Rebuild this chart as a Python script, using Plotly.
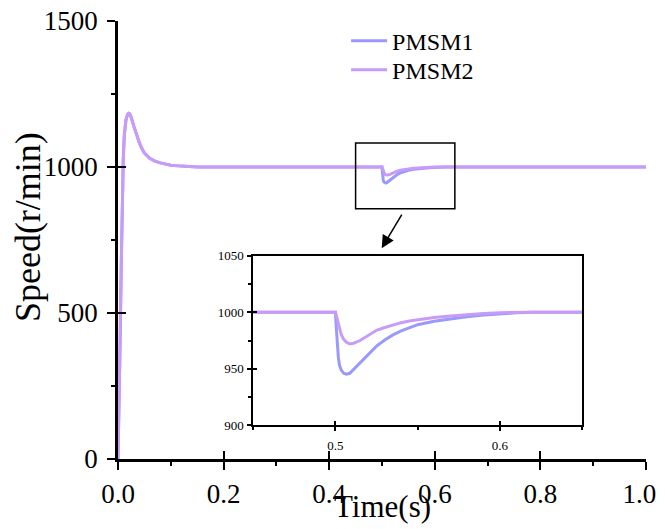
import plotly.graph_objects as go

# ---- data ----
time_s = [0, 0.002, 0.004, 0.006, 0.008, 0.01, 0.012, 0.015, 0.018, 0.02, 0.022, 0.025,
          0.03, 0.035, 0.04, 0.045, 0.05, 0.06, 0.07, 0.08, 0.09, 0.1, 0.12, 0.15, 0.2,
          0.3, 0.4, 0.45, 0.49,
          0.5, 0.5006, 0.5012, 0.5018, 0.5025, 0.5035, 0.505, 0.5067, 0.5087, 0.511,
          0.515, 0.52, 0.525, 0.53, 0.535, 0.54, 0.545, 0.55, 0.56, 0.57, 0.58, 0.59,
          0.6, 0.61, 0.62,
          0.65, 0.7, 0.8, 0.9, 1.0]

pmsm1 = [0, 150, 400, 650, 880, 1030, 1110, 1160, 1180, 1184, 1182, 1170,
         1140, 1110, 1085, 1064, 1048, 1030, 1020, 1014, 1010, 1006, 1003, 1000, 1000,
         1000, 1000, 1000, 1000,
         1000, 985, 970, 960, 953, 949, 946, 945.2, 946, 949.5,
         955.5, 963, 970, 975.5, 980, 983.5, 986.5, 989, 992, 994.3, 996, 997.5,
         998.7, 999.5, 1000,
         1000, 1000, 1000, 1000, 1000]

pmsm2 = [0, 150, 400, 650, 880, 1030, 1110, 1160, 1180, 1184, 1182, 1170,
         1140, 1110, 1085, 1064, 1048, 1030, 1020, 1014, 1010, 1006, 1003, 1000, 1000,
         1000, 1000, 1000, 1000,
         1000, 997, 993, 989, 985, 980.5, 976, 973.5, 972, 972.5,
         975, 979.5, 984, 986.5, 988.8, 990.8, 992.3, 993.5, 995.3, 996.8, 998, 999,
         999.6, 1000, 1000,
         1000, 1000, 1000, 1000, 1000]

series_names = ["PMSM1", "PMSM2"]
x_ticks = [0, 0.2, 0.4, 0.6, 0.8, 1.0]
x_tick_labels = ["0.0", "0.2", "0.4", "0.6", "0.8", "1.0\u00a0\u00a0"]
y_ticks = [0, 500, 1000, 1500]
inset_x_ticks = [0.5, 0.6]
inset_y_ticks = [900, 950, 1000, 1050]
zoom_x = [0.45, 0.638]
zoom_y = [857, 1082]

# ---- style ----
C1 = "#9a9afc"
C2 = "#c99bf8"
FONT = "Liberation Serif"

fig = go.Figure()
legends = ["legend", "legend2"]
for name, vals, col, lg in [(series_names[0], pmsm1, C1, legends[0]),
                            (series_names[1], pmsm2, C2, legends[1])]:
    fig.add_trace(go.Scatter(x=time_s, y=vals, mode="lines", name=name, legend=lg,
                             line=dict(color=col, width=3), xaxis="x", yaxis="y"))
for name, vals, col in [(series_names[0], pmsm1, C1), (series_names[1], pmsm2, C2)]:
    fig.add_trace(go.Scatter(x=time_s, y=vals, mode="lines", name=name, showlegend=False,
                             line=dict(color=col, width=3), xaxis="x2", yaxis="y2"))
# empty traces to instantiate the tick-overlay axes
fig.add_trace(go.Scatter(x=[], y=[], xaxis="x3", yaxis="y3", showlegend=False))
fig.add_trace(go.Scatter(x=[], y=[], xaxis="x4", yaxis="y4", showlegend=False))

blk = "black"
main_x_common = dict(range=[0, 1], tickvals=x_ticks, ticktext=x_tick_labels,
                     tickwidth=2, tickcolor=blk, ticklen=8, automargin=False,
                     minor=dict(dtick=0.1, tick0=0, ticklen=4, tickwidth=2, tickcolor=blk),
                     showgrid=False, zeroline=False, domain=[0, 1])
main_y_common = dict(range=[0, 1500], tickvals=y_ticks, tickwidth=2, tickcolor=blk, ticklen=8,
                     automargin=False,
                     minor=dict(dtick=250, tick0=0, ticklen=4, tickwidth=2, tickcolor=blk),
                     showgrid=False, zeroline=False, domain=[0, 1])

in_xdom = [0.256, 0.879]
in_ydom = [0.077, 0.464]
in_x_common = dict(range=[0.45, 0.65], tickvals=inset_x_ticks, ticktext=["0.5", "0.6"],
                   tickwidth=1.5, tickcolor=blk, ticklen=4, automargin=False,
                   minor=dict(dtick=0.05, tick0=0.45, ticklen=3, tickwidth=1.5, tickcolor=blk),
                   showgrid=False, zeroline=False, domain=in_xdom)
in_y_common = dict(range=[900, 1050], tickvals=inset_y_ticks, tickwidth=1.5, tickcolor=blk,
                   ticklen=4, automargin=False,
                   minor=dict(dtick=25, tick0=900, ticklen=3, tickwidth=1.5, tickcolor=blk),
                   showgrid=False, zeroline=False, domain=in_ydom)

leg_common = dict(xanchor="left", yanchor="middle", font=dict(size=24, family=FONT, color=blk),
                  bgcolor="rgba(0,0,0,0)", itemwidth=36)

# page body adds an 8px offset; figure is sized so the plot area lands where the reference has it
fig.update_layout(
    template="none",
    width=657, height=521,
    margin=dict(l=110, r=19, t=13, b=70, autoexpand=False),
    paper_bgcolor="white", plot_bgcolor="white",
    font=dict(family=FONT, color="black"),
    showlegend=True,
    legend=dict(x=0.432, y=0.954, **leg_common),
    legend2=dict(x=0.432, y=0.888, **leg_common),
    xaxis=dict(**main_x_common, anchor="y", showline=True, linewidth=2.5, linecolor=blk,
               ticks="outside", ticklabelstandoff=1, ticklabeloverflow="allow",
               tickfont=dict(size=27, family=FONT, color=blk)),
    yaxis=dict(**main_y_common, anchor="x", showline=True, linewidth=2.5, linecolor=blk,
               ticks="outside", ticklabelstandoff=4, ticklabeloverflow="allow",
               tickfont=dict(size=27, family=FONT, color=blk)),
    xaxis3=dict(**main_x_common, overlaying="x", anchor="y", side="bottom",
                ticks="inside", showticklabels=False, showline=False),
    yaxis3=dict(**main_y_common, overlaying="y", anchor="x", side="left",
                ticks="inside", showticklabels=False, showline=False),
    xaxis2=dict(**in_x_common, anchor="y2", showline=True, mirror=True, linewidth=1.5,
                linecolor=blk, ticks="outside", ticklabelstandoff=3,
                tickfont=dict(size=13, family=FONT, color=blk)),
    yaxis2=dict(**in_y_common, anchor="x2", showline=True, mirror=True, linewidth=1.5,
                linecolor=blk, ticks="outside", ticklabelstandoff=1,
                tickfont=dict(size=13, family=FONT, color=blk)),
    xaxis4=dict(**in_x_common, overlaying="x2", anchor="y2", side="bottom",
                ticks="inside", showticklabels=False, showline=False),
    yaxis4=dict(**in_y_common, overlaying="y2", anchor="x2", side="left",
                ticks="inside", showticklabels=False, showline=False),
    shapes=[dict(type="rect", xref="x", yref="y", x0=zoom_x[0], x1=zoom_x[1],
                 y0=zoom_y[0], y1=zoom_y[1], line=dict(color=blk, width=1.5))],
    annotations=[
        dict(text="Time(s)", xref="paper", yref="paper", x=0.5, y=-0.108,
             xanchor="center", yanchor="middle", showarrow=False,
             font=dict(size=31, family=FONT, color=blk)),
        dict(text="Speed(r/min)", xref="paper", yref="paper", x=-0.17, y=0.53,
             xanchor="center", yanchor="middle", showarrow=False, textangle=-90,
             font=dict(size=36, family=FONT, color=blk)),
        dict(text="", xref="x", yref="y", x=0.4994, y=722, ax=21, ay=-35,
             showarrow=True, arrowhead=2, arrowsize=1.7, arrowwidth=1.5, arrowcolor=blk),
    ],
)

fig.write_html("out.html")
